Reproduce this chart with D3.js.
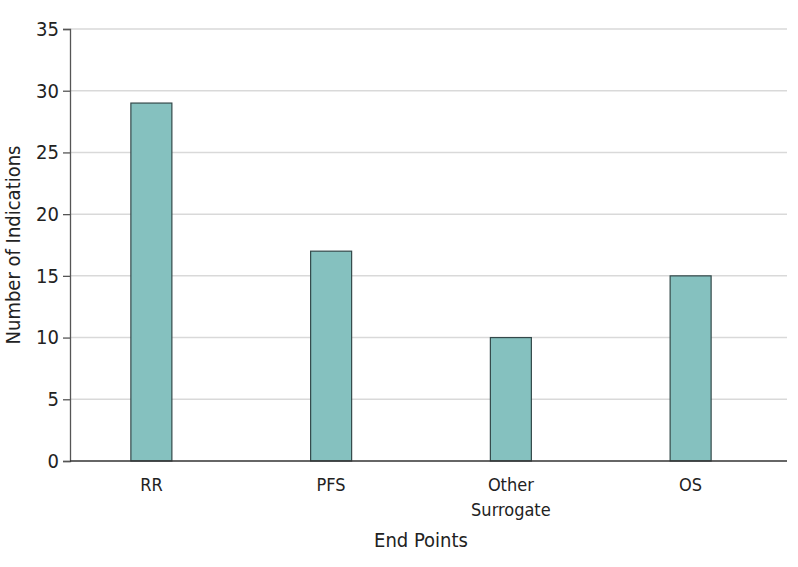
<!DOCTYPE html>
<html>
<head>
<meta charset="utf-8">
<script src="https://cdn.jsdelivr.net/npm/d3@7"></script>
<style>
  body { margin: 0; background: #fff; }
  svg text { font-family: "DejaVu Sans Condensed", "DejaVu Sans", sans-serif; fill: #222; }
</style>
</head>
<body>
<div class="svg-container"></div>
<script>
var categories = ["RR", "PFS", "Other Surrogate", "OS"];
var counts = [29, 17, 10, 15];
var yTicks = [0, 5, 10, 15, 20, 25, 30, 35];

var width = 798, height = 567;
var plotLeft = 70, plotRight = 787, plotTop = 29, plotBottom = 461;

var svg = d3.select('.svg-container').append('svg')
  .attr('width', width)
  .attr('height', height);

var y = d3.scaleLinear().domain([0, 35]).range([plotBottom, plotTop]);
var x = d3.scaleBand().domain(categories).range([61.5, 780.5]);
var barW = 41;

// gridlines
svg.append('g').selectAll('line')
  .data(yTicks.filter(function(d) { return d > 0; }))
  .enter().append('line')
  .attr('x1', plotLeft).attr('x2', plotRight)
  .attr('y1', function(d) { return y(d); })
  .attr('y2', function(d) { return y(d); })
  .attr('stroke', '#d9d9d9')
  .attr('stroke-width', 1.5);

// bars
svg.append('g').selectAll('rect')
  .data(categories)
  .enter().append('rect')
  .attr('x', function(d) { return x(d) + x.bandwidth() / 2 - barW / 2; })
  .attr('y', function(d, i) { return y(counts[i]); })
  .attr('width', barW)
  .attr('height', function(d, i) { return plotBottom - y(counts[i]); })
  .attr('fill', '#85c1bf')
  .attr('stroke', '#34494a')
  .attr('stroke-width', 1.2);

// y axis
var yAxis = svg.append('g')
  .attr('transform', 'translate(' + plotLeft + ',0)')
  .call(d3.axisLeft(y).tickValues(yTicks).tickSize(7).tickPadding(4));
yAxis.select('.domain').attr('stroke', '#555').attr('stroke-width', 1.3);
yAxis.selectAll('.tick line').attr('stroke', '#555').attr('stroke-width', 1.3);
yAxis.selectAll('.tick text').attr('font-size', 20).attr('fill', '#222')
  .style('font-family', '"DejaVu Sans Condensed", "DejaVu Sans", sans-serif');

// baseline
svg.append('line')
  .attr('x1', plotLeft).attr('x2', plotRight)
  .attr('y1', plotBottom).attr('y2', plotBottom)
  .attr('stroke', '#333').attr('stroke-width', 1.3);

// x labels
svg.append('g').selectAll('text')
  .data(categories)
  .enter().append('text')
  .attr('text-anchor', 'middle')
  .attr('font-size', 18)
  .attr('x', function(d) { return x(d) + x.bandwidth() / 2; })
  .attr('y', 491)
  .each(function(d) {
    var words = d.split(' ');
    var t = d3.select(this);
    words.forEach(function(w, i) {
      t.append('tspan')
        .attr('x', x(d) + x.bandwidth() / 2)
        .attr('dy', i === 0 ? 0 : 25)
        .text(w);
    });
  });

// axis titles
svg.append('text')
  .attr('text-anchor', 'middle')
  .attr('font-size', 20)
  .attr('x', 421).attr('y', 547)
  .text('End Points');

svg.append('text')
  .attr('text-anchor', 'middle')
  .attr('font-size', 20)
  .attr('transform', 'translate(20,' + ((plotTop + plotBottom) / 2) + ') rotate(-90)')
  .text('Number of Indications');
</script>
</body>
</html>
